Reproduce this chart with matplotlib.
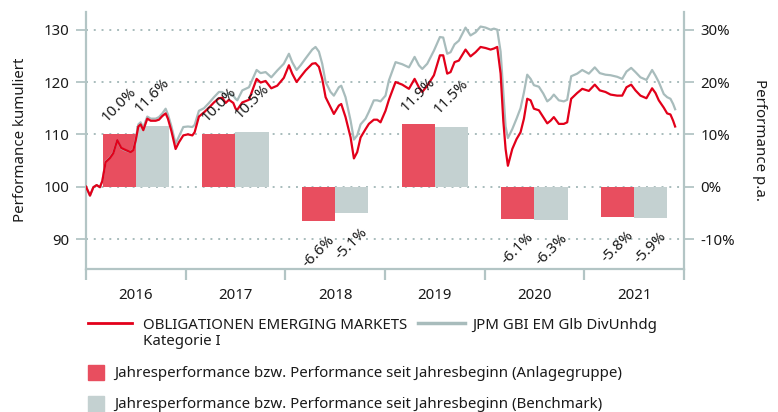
import matplotlib
matplotlib.use("Agg")
import matplotlib.pyplot as plt
from matplotlib.lines import Line2D
from matplotlib.patches import Rectangle
import numpy as np

plt.rcParams['font.family'] = ['Noto Sans', 'DejaVu Sans']

# Annual performance per year (fund vs. benchmark), in percent
years = [2016, 2017, 2018, 2019, 2020, 2021]
fund_pct = [10.0, 10.0, -6.6, 11.9, -6.1, -5.8]
bench_pct = [11.6, 10.5, -5.1, 11.5, -6.3, -5.9]

# Cumulative performance (start = 100), time in decimal years
t = [0.000, 0.040, 0.074, 0.107, 0.140, 0.164, 0.197, 0.241, 0.274, 0.314,
     0.354, 0.398, 0.448, 0.475, 0.498, 0.525, 0.548, 0.575, 0.615, 0.649,
     0.699, 0.732, 0.766, 0.799, 0.822, 0.856, 0.899, 0.933, 0.976, 1.023,
     1.067, 1.090, 1.133, 1.184, 1.234, 1.284, 1.334, 1.367, 1.401, 1.434,
     1.478, 1.501, 1.518, 1.568, 1.635, 1.712, 1.752, 1.802, 1.859, 1.919,
     1.985, 2.036, 2.069, 2.113, 2.153, 2.203, 2.270, 2.303, 2.337, 2.370,
     2.404, 2.454, 2.487, 2.537, 2.561, 2.604, 2.655, 2.688, 2.721, 2.755,
     2.805, 2.838, 2.888, 2.922, 2.955, 3.005, 3.039, 3.106, 3.173, 3.240,
     3.297, 3.340, 3.374, 3.424, 3.491, 3.551, 3.584, 3.624, 3.658, 3.698,
     3.741, 3.808, 3.858, 3.909, 3.959, 4.009, 4.059, 4.093, 4.126, 4.160,
     4.187, 4.210, 4.233, 4.277, 4.320, 4.360, 4.394, 4.427, 4.461, 4.494,
     4.544, 4.588, 4.628, 4.661, 4.694, 4.744, 4.794, 4.828, 4.868, 4.928,
     4.979, 5.045, 5.105, 5.155, 5.212, 5.263, 5.329, 5.380, 5.423, 5.470,
     5.513, 5.563, 5.623, 5.680, 5.714, 5.747, 5.797, 5.831, 5.864, 5.891,
     5.911]
fund_cum = [100.0, 98.3, 99.9, 100.3, 99.9, 101.1, 104.7, 105.5, 106.4, 108.9,
            107.4, 107.0, 106.6, 107.0, 108.8, 111.5, 111.9, 110.8, 113.0, 112.6,
            112.6, 112.8, 113.5, 114.0, 113.0, 110.7, 107.2, 108.5, 109.8, 110.0,
            109.8, 110.4, 113.4, 114.2, 115.1, 116.1, 116.9, 117.0, 116.0, 116.6,
            116.0, 114.9, 114.7, 116.1, 116.6, 120.6, 119.9, 120.2, 118.8, 119.3,
            120.8, 123.2, 121.6, 120.0, 121.0, 122.2, 123.5, 123.6, 122.9, 120.6,
            117.1, 115.2, 113.9, 115.5, 115.8, 113.3, 109.4, 105.4, 106.6, 109.4,
            111.0, 112.0, 112.8, 112.8, 112.3, 114.5, 116.6, 120.0, 119.5, 118.7,
            120.6, 119.0, 118.1, 119.3, 121.3, 125.1, 125.1, 121.6, 121.9, 123.8,
            124.1, 126.2, 124.9, 125.7, 126.7, 126.5, 126.2, 126.4, 126.7, 121.6,
            112.6, 107.2, 104.0, 107.2, 109.1, 110.4, 113.0, 116.8, 116.5, 114.9,
            114.6, 113.3, 112.1, 112.6, 113.3, 112.0, 112.0, 112.3, 116.8, 117.9,
            118.7, 118.3, 119.5, 118.4, 118.1, 117.6, 117.4, 117.4, 119.0, 119.5,
            118.4, 117.4, 116.9, 118.8, 117.9, 116.5, 115.1, 114.0, 113.8, 112.6,
            111.5]
bench_cum = [100.0, 98.3, 99.9, 100.3, 99.9, 101.1, 104.8, 105.6, 106.5, 108.9,
             107.3, 106.9, 106.6, 107.1, 109.0, 111.9, 112.3, 111.3, 113.4, 113.0,
             113.0, 113.3, 114.0, 114.9, 113.8, 111.6, 108.2, 109.6, 111.4, 111.5,
             111.4, 111.8, 114.5, 115.0, 116.0, 117.1, 118.1, 118.1, 117.5, 117.8,
             117.4, 116.8, 116.5, 118.4, 119.0, 122.3, 121.7, 121.9, 120.9, 122.2,
             123.5, 125.4, 123.8, 122.3, 123.2, 124.5, 126.2, 126.7, 125.8, 123.5,
             120.0, 118.1, 117.4, 119.0, 119.3, 117.1, 112.6, 109.0, 109.8, 111.9,
             113.0, 114.3, 116.5, 116.5, 116.3, 117.4, 120.3, 123.8, 123.4, 122.8,
             124.8, 123.2, 122.5, 123.5, 126.0, 128.6, 128.5, 125.4, 125.7, 127.2,
             127.9, 130.4, 128.9, 129.5, 130.6, 130.4, 130.0, 130.2, 130.0, 125.8,
             118.0, 111.5, 109.3, 111.0, 113.0, 115.0, 118.0, 121.4, 120.6, 119.4,
             119.1, 117.8, 116.3, 116.8, 117.6, 116.5, 116.3, 116.6, 121.1, 121.6,
             122.3, 121.6, 122.8, 121.7, 121.4, 121.3, 121.0, 120.6, 122.0, 122.7,
             121.9, 120.9, 120.4, 122.3, 121.2, 120.0, 117.7, 117.1, 116.8, 115.8,
             114.8]

fund_label = ["OBLIGATIONEN EMERGING MARKETS", "Kategorie I"]
bench_label = "JPM GBI EM Glb DivUnhdg"
bar_fund_label = "Jahresperformance bzw. Performance seit Jahresbeginn (Anlagegruppe)"
bar_bench_label = "Jahresperformance bzw. Performance seit Jahresbeginn (Benchmark)"

RED_LINE = "#e2001a"
GREY_LINE = "#a8bcbc"
RED_BAR = "#e84e5f"
GREY_BAR = "#c4d1d1"
AXIS_C = "#b3c5c5"
TXT = "#1a1a1a"
FS = 10.8

W, H = 778, 412
fig = plt.figure(figsize=(W / 100, H / 100), dpi=100)


def fx(x):
    return x / W


def fy(y):
    return 1 - y / H


ax = fig.add_axes([fx(86), fy(269), fx(684) - fx(86), fy(12) - fy(269)])
ax2 = ax.twinx()
ax.set_zorder(ax2.get_zorder() + 1)
ax.patch.set_visible(False)

ylo, yhi = 84.27, 133.38
ax.set_ylim(ylo, yhi)
ax2.set_ylim(ylo - 100, yhi - 100)
ax.set_xlim(2016, 2022)

# Yearly bars on the percent axis
xs = np.array(years) + 0.5
bw = 1 / 3
ax2.bar(xs - bw / 2, fund_pct, width=bw, color=RED_BAR, zorder=2)
ax2.bar(xs + bw / 2, bench_pct, width=bw, color=GREY_BAR, zorder=2)

# Grid on the lower axes so bars cover it
ax2.set_yticks([-10, 0, 10, 20, 30])
ax2.set_yticklabels(["-10%", "0%", "10%", "20%", "30%"])
ax2.grid(axis='y', color=GREY_LINE, linestyle=(0, (1, 3)), linewidth=1.4)
ax2.set_axisbelow(True)

# Cumulative lines
tx = np.array(t) + 2016
ax.plot(tx, bench_cum, color=GREY_LINE, lw=1.6, zorder=3)
ax.plot(tx, fund_cum, color=RED_LINE, lw=1.6, zorder=4)

# Value labels on the bars
for x, fv, bv in zip(xs, fund_pct, bench_pct):
    for xx, v in ((x - bw / 2, fv), (x + bw / 2, bv)):
        off = 7 if v >= 0 else -8
        ax.annotate(f"{v:.1f}%", xy=(xx, v), xycoords=ax2.transData,
                    xytext=(0, off), textcoords='offset points',
                    rotation=45, ha='center', va='bottom' if v >= 0 else 'top',
                    fontsize=FS, color=TXT, zorder=6)

# Axes styling
ax.set_yticks([90, 100, 110, 120, 130])
for a in (ax, ax2):
    for s in a.spines.values():
        s.set_color(AXIS_C)
        s.set_linewidth(1.6)
    a.spines['top'].set_visible(False)
ax.spines['right'].set_visible(False)
ax2.spines['left'].set_visible(False)
ax2.spines['bottom'].set_visible(False)

ax.tick_params(axis='y', length=7, width=1.3, color=AXIS_C, pad=5,
               labelsize=FS, labelcolor=TXT)
ax2.tick_params(axis='y', length=7, width=1.3, color=AXIS_C, pad=5,
                labelsize=FS, labelcolor=TXT)

ax.set_xticks(list(range(2016, 2023)))
ax.set_xticklabels([])
ax.set_xticks(xs, minor=True)
ax.set_xticklabels([str(y) for y in years], minor=True)
ax.tick_params(axis='x', which='major', length=8, width=1.6, color=AXIS_C)
ax.tick_params(axis='x', which='minor', length=0, pad=14, labelsize=FS,
               labelcolor=TXT)

# Axis titles
fig.text(fx(21), fy(140), "Performance kumuliert", rotation=90,
         ha='center', va='center', fontsize=FS, color=TXT)
fig.text(fx(760), fy(140), "Performance p.a.", rotation=270,
         ha='center', va='center', fontsize=FS, color=TXT)

# Legend
fig.add_artist(Line2D([fx(88), fx(132)], [fy(323), fy(323)], color=RED_LINE, lw=2))
fig.text(fx(143), fy(329), fund_label[0], ha='left', va='baseline',
         fontsize=FS, color=TXT)
fig.text(fx(143), fy(345), fund_label[1], ha='left', va='baseline',
         fontsize=FS, color=TXT)
fig.add_artist(Line2D([fx(418), fx(465)], [fy(323), fy(323)], color=GREY_LINE, lw=2.5))
fig.text(fx(472), fy(329), bench_label, ha='left', va='baseline',
         fontsize=FS, color=TXT)

fig.add_artist(Rectangle((fx(88), fy(380)), fx(16), fy(365) - fy(380),
                         color=RED_BAR, transform=fig.transFigure))
fig.text(fx(114), fy(377), bar_fund_label, ha='left', va='baseline',
         fontsize=FS, color=TXT)
fig.add_artist(Rectangle((fx(88), fy(412)), fx(16), fy(396) - fy(412),
                         color=GREY_BAR, transform=fig.transFigure))
fig.text(fx(114), fy(408), bar_bench_label, ha='left', va='baseline',
         fontsize=FS, color=TXT)

fig.savefig("out.png", dpi=100)
